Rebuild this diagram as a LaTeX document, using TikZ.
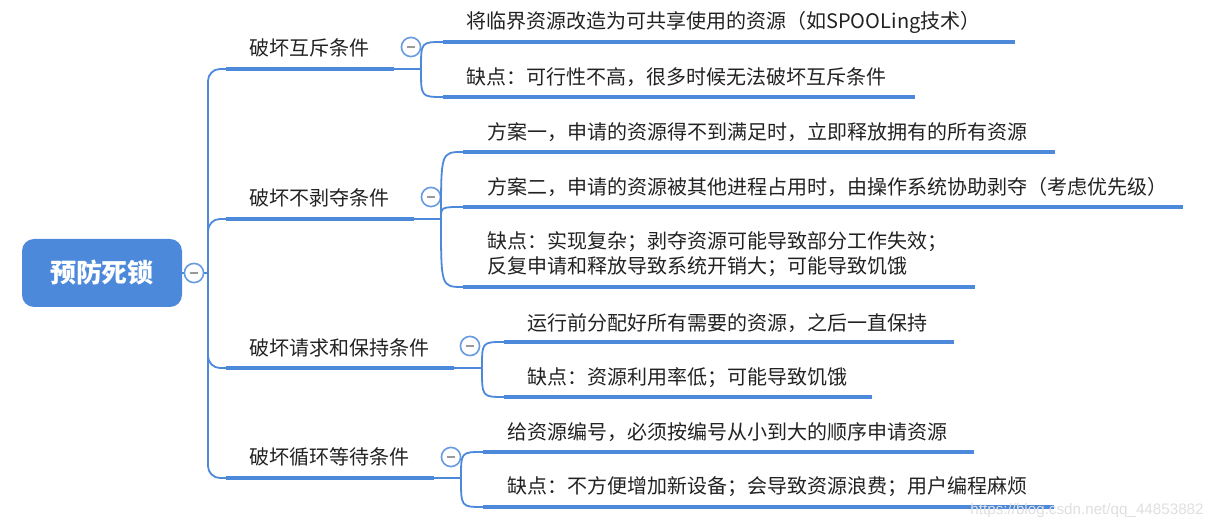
\documentclass[tikz,border=0pt]{standalone}
\usepackage{fontspec}
\setmainfont{Noto Sans CJK SC}
\newfontfamily\wmfont{Liberation Sans}
\definecolor{mapblue}{RGB}{76,137,218}
\definecolor{inkgray}{RGB}{34,34,34}
\tikzset{
 link/.style={draw=mapblue,line width=0.9pt},
 bar/.style={draw=mapblue,line width=2.2pt},
 txt/.style={anchor=west,inner sep=0pt,text=inkgray,align=left,font=\fontsize{10}{12.5}\selectfont},
 fold/.style={circle,draw=mapblue!85,fill=white,line width=0.8pt,minimum size=9.6pt,inner sep=0pt,
  path picture={\draw[line width=0.8pt,gray!80] ([xshift=-2.2pt]path picture bounding box.center) -- ([xshift=2.2pt]path picture bounding box.center);}},
 rootbox/.style={fill=mapblue,rounded corners=6pt,minimum width=80pt,minimum height=34pt,text=white,font=\fontsize{13}{15}\selectfont\bfseries}
}
\begin{document}
\begin{tikzpicture}[x=0.5pt,y=-0.5pt]
 \useasboundingbox (0,0) rectangle (1223,528);
 \node[rootbox] (root) at (102,273) {预防死锁};
 \node[fold] (rootfold) at (194,273) {};
 \coordinate (jn) at (208,273);
 \draw[link] (root) -- (rootfold) -- (jn);

 \node[txt] (b1) at (249,48) {破坏互斥条件};
 \node[txt] (b2) at (249,198) {破坏不剥夺条件};
 \node[txt] (b3) at (249,348) {破坏请求和保持条件};
 \node[txt] (b4) at (249,457) {破坏循环等待条件};
 \coordinate (u1a) at (226,69);  \coordinate (u1b) at (394,69);  \coordinate (fk1) at (421,69);
 \coordinate (u2a) at (226,219); \coordinate (u2b) at (414,219); \coordinate (fk2) at (441,219);
 \coordinate (u3a) at (226,368); \coordinate (u3b) at (454,368); \coordinate (fk3) at (482,368);
 \coordinate (u4a) at (226,478); \coordinate (u4b) at (434,478); \coordinate (fk4) at (461,478);
 \draw[link,rounded corners=6pt] (jn) |- (u1a);
 \draw[link,rounded corners=6pt] (jn) |- (u2a);
 \draw[link,rounded corners=6pt] (jn) |- (u3a);
 \draw[link,rounded corners=6pt] (jn) |- (u4a);
 \draw[bar] (u1a) -- (u1b); \draw[link] (u1b) -- (fk1);
 \draw[bar] (u2a) -- (u2b); \draw[link] (u2b) -- (fk2);
 \draw[bar] (u3a) -- (u3b); \draw[link] (u3b) -- (fk3);
 \draw[bar] (u4a) -- (u4b); \draw[link] (u4b) -- (fk4);
 \node[fold] (f1) at (411,47) {};
 \node[fold] (f2) at (431,197) {};
 \node[fold] (f3) at (470,346) {};
 \node[fold] (f4) at (451,457) {};

 \node[txt] (c11) at (466,22) {将临界资源改造为可共享使用的资源（如SPOOLing技术）};
 \node[txt] (c12) at (466,77) {缺点：可行性不高，很多时候无法破坏互斥条件};
 \coordinate (v11a) at (443,42); \coordinate (v11b) at (1015,42);
 \coordinate (v12a) at (443,97); \coordinate (v12b) at (915,97);

 \node[txt] (c21) at (487,132) {方案一，申请的资源得不到满足时，立即释放拥有的所有资源};
 \node[txt] (c22) at (487,187) {方案二，申请的资源被其他进程占用时，由操作系统协助剥夺（考虑优先级）};
 \node[txt] (c23) at (487,254.5) {缺点：实现复杂；剥夺资源可能导致部分工作失效；\\反复申请和释放导致系统开销大；可能导致饥饿};
 \coordinate (v21a) at (463,152); \coordinate (v21b) at (1055,152);
 \coordinate (v22a) at (463,207); \coordinate (v22b) at (1183,207);
 \coordinate (v23a) at (463,287); \coordinate (v23b) at (975,287);

 \node[txt] (c31) at (527,323) {运行前分配好所有需要的资源，之后一直保持};
 \node[txt] (c32) at (527,378) {缺点：资源利用率低；可能导致饥饿};
 \coordinate (v31a) at (504,342); \coordinate (v31b) at (954,342);
 \coordinate (v32a) at (504,397); \coordinate (v32b) at (872,397);

 \node[txt] (c41) at (507,432) {给资源编号，必须按编号从小到大的顺序申请资源};
 \node[txt] (c42) at (507,487) {缺点：不方便增加新设备；会导致资源浪费；用户编程麻烦};
 \coordinate (v41a) at (483,452); \coordinate (v41b) at (974,452);
 \coordinate (v42a) at (483,507); \coordinate (v42b) at (1054,507);

 \draw[link] (fk1) .. controls (fk1 |- v11a) and (fk1 |- v11a) .. (v11a);
 \draw[link] (fk1) .. controls (fk1 |- v12a) and (fk1 |- v12a) .. (v12a);
 \draw[link] (fk2) .. controls (fk2 |- v21a) and (fk2 |- v21a) .. (v21a);
 \draw[link] (fk2) .. controls (fk2 |- v22a) and (fk2 |- v22a) .. (v22a);
 \draw[link] (fk2) .. controls (fk2 |- v23a) and (fk2 |- v23a) .. (v23a);
 \draw[link] (fk3) .. controls (fk3 |- v31a) and (fk3 |- v31a) .. (v31a);
 \draw[link] (fk3) .. controls (fk3 |- v32a) and (fk3 |- v32a) .. (v32a);
 \draw[link] (fk4) .. controls (fk4 |- v41a) and (fk4 |- v41a) .. (v41a);
 \draw[link] (fk4) .. controls (fk4 |- v42a) and (fk4 |- v42a) .. (v42a);
 \draw[bar] (v11a) -- (v11b); \draw[bar] (v12a) -- (v12b);
 \draw[bar] (v21a) -- (v21b); \draw[bar] (v22a) -- (v22b); \draw[bar] (v23a) -- (v23b);
 \draw[bar] (v31a) -- (v31b); \draw[bar] (v32a) -- (v32b);
 \draw[bar] (v41a) -- (v41b); \draw[bar] (v42a) -- (v42b);

 \node[anchor=west,inner sep=0pt,text=gray!25,font=\wmfont\fontsize{7.6}{9}\selectfont] (mark) at (970,511) {https://blog.csdn.net/qq\_44853882};
\end{tikzpicture}
\end{document}
